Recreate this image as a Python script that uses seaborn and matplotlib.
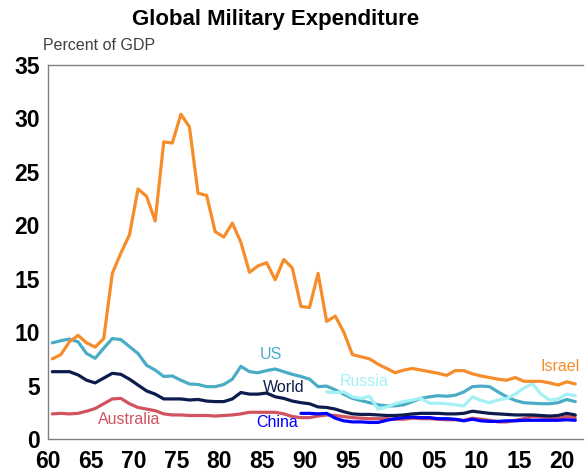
import matplotlib
matplotlib.use("Agg")
import matplotlib.pyplot as plt
import numpy as np
import pandas as pd
import seaborn as sns

# Military spending, percent of GDP, 1960-2021
years = list(range(1960, 2022))

israel = [7.5, 7.9, 9.1, 9.7, 9.0, 8.6, 9.4, 15.5, 17.4, 19.1,
          23.4, 22.7, 20.4, 27.8, 27.7, 30.4, 29.2, 23.0, 22.8, 19.4,
          18.9, 20.2, 18.4, 15.6, 16.2, 16.5, 14.9, 16.8, 16.0, 12.4,
          12.3, 15.5, 11.0, 11.5, 10.0, 7.9, 7.7, 7.5, 7.0, 6.6,
          6.2, 6.45, 6.6, 6.45, 6.3, 6.15, 5.95, 6.4, 6.4, 6.1,
          5.9, 5.75, 5.6, 5.5, 5.75, 5.4, 5.4, 5.4, 5.25, 5.05,
          5.35, 5.15]

us = [9.0, 9.2, 9.35, 9.1, 8.0, 7.55, 8.5, 9.4, 9.3, 8.65,
      8.0, 6.9, 6.45, 5.85, 5.9, 5.5, 5.15, 5.1, 4.9, 4.9,
      5.1, 5.6, 6.8, 6.3, 6.2, 6.4, 6.55, 6.3, 6.05, 5.85,
      5.6, 4.9, 4.95, 4.6, 4.2, 3.8, 3.6, 3.4, 3.2, 3.1,
      3.1, 3.2, 3.5, 3.8, 3.95, 4.05, 4.0, 4.1, 4.4, 4.9,
      4.95, 4.9, 4.4, 3.95, 3.6, 3.4, 3.35, 3.3, 3.3, 3.4,
      3.7, 3.5]

world = [6.3, 6.3, 6.3, 6.0, 5.5, 5.25, 5.7, 6.15, 6.05, 5.6,
         5.05, 4.5, 4.2, 3.75, 3.75, 3.75, 3.65, 3.7, 3.55, 3.5,
         3.5, 3.75, 4.35, 4.2, 4.2, 4.3, 3.95, 3.8, 3.55, 3.4,
         3.3, 3.0, 2.95, 2.8, 2.55, 2.35, 2.3, 2.3, 2.25, 2.2,
         2.2, 2.25, 2.35, 2.4, 2.4, 2.4, 2.35, 2.35, 2.4, 2.6,
         2.5, 2.4, 2.35, 2.3, 2.25, 2.25, 2.25, 2.2, 2.15, 2.2,
         2.4, 2.25]

australia = [2.35, 2.4, 2.35, 2.4, 2.6, 2.85, 3.3, 3.75, 3.8, 3.3,
             2.95, 2.8, 2.65, 2.35, 2.25, 2.25, 2.2, 2.2, 2.2, 2.15,
             2.2, 2.25, 2.35, 2.5, 2.5, 2.5, 2.5, 2.35, 2.1, 2.0,
             2.0, 2.15, 2.25, 2.2, 2.1, 2.0, 1.95, 1.9, 1.9, 1.9,
             1.85, 1.85, 1.95, 1.9, 1.9, 1.85, 1.8, 1.8, 1.75, 1.95,
             1.85, 1.75, 1.6, 1.6, 1.75, 1.9, 2.1, 2.05, 1.95, 1.9,
             2.1, 2.0]

china_years = list(range(1989, 2022))
china = [2.4, 2.4, 2.35, 2.4, 1.95, 1.7, 1.6, 1.6, 1.55, 1.55,
         1.75, 1.9, 2.0, 2.05, 2.0, 2.0, 1.9, 1.9, 1.85, 1.7,
         1.85, 1.7, 1.65, 1.65, 1.7, 1.7, 1.75, 1.75, 1.75, 1.75,
         1.75, 1.8, 1.75]

russia_years = list(range(1992, 2022))
russia = [4.4, 4.35, 4.4, 3.95, 3.8, 4.0, 2.8, 3.0, 3.3, 3.5,
          3.65, 3.8, 3.35, 3.35, 3.3, 3.2, 3.1, 3.95, 3.6, 3.4,
          3.65, 3.8, 4.2, 4.75, 5.2, 4.2, 3.65, 3.75, 4.2, 4.05]

series = [
    ("Australia", years, australia, "#D1535F"),
    ("China", china_years, china, "#0000FF"),
    ("World", years, world, "#0D1C4C"),
    ("US", years, us, "#4BACC6"),
    ("Russia", russia_years, russia, "#A3F0F5"),
    ("Israel", years, israel, "#F78D2A"),
]

frames = []
for name, yrs, vals, _ in series:
    # yearly values sit at mid-year
    frames.append(pd.DataFrame({"year": np.array(yrs) + 0.5, "value": vals, "country": name}))
df = pd.concat(frames, ignore_index=True)
palette = {name: col for name, _, _, col in series}

sns.set_style("white")
plt.rcParams["font.family"] = ["Liberation Sans", "DejaVu Sans"]

fig = plt.figure(figsize=(5.85, 4.73), dpi=100)
ax = fig.add_axes([48 / 585, 34 / 473, 535 / 585, 374 / 473])

sns.lineplot(data=df, x="year", y="value", hue="country", palette=palette,
             hue_order=[s[0] for s in series], linewidth=2.3, legend=False, ax=ax)

ax.set_xlim(1960, 2022.4)
ax.set_ylim(0, 35)
ax.set_xticks(range(1960, 2021, 5))
ax.set_xticklabels(["60", "65", "70", "75", "80", "85", "90", "95",
                    "00", "05", "10", "15", "20"])
ax.set_yticks(range(0, 36, 5))
ax.set_xlabel("")
ax.set_ylabel("")

for side in ["left", "bottom", "top"]:
    ax.spines[side].set_color("#808080")
    ax.spines[side].set_linewidth(1.0)
ax.spines["right"].set_visible(False)

ax.tick_params(axis="y", direction="out", length=4, width=1, color="#808080",
               labelsize=16.5, labelcolor="black", pad=2)
ax.tick_params(axis="x", direction="in", length=4, width=1, color="#808080",
               labelsize=16.5, labelcolor="black", pad=8)
for lab in ax.get_xticklabels() + ax.get_yticklabels():
    lab.set_fontweight("bold")

# series labels
labels = [
    ("US", 1986.0, 7.9, "#4BACC6"),
    ("World", 1987.5, 4.8, "#0D1C4C"),
    ("Australia", 1969.5, 1.85, "#D1535F"),
    ("China", 1986.7, 1.5, "#0000FF"),
    ("Russia", 1996.9, 5.4, "#A3F0F5"),
    ("Israel", 2019.7, 6.8, "#F78D2A"),
]
for txt, x, y, col in labels:
    ax.text(x, y, txt, color=col, fontsize=11.5, ha="center", va="center")

fig.text(276 / 585, 1 - 19 / 473, "Global Military Expenditure", ha="center", va="center",
         fontsize=16, fontweight="bold", color="black")
fig.text(43 / 585, 1 - 46 / 473, "Percent of GDP", ha="left", va="center",
         fontsize=11.5, color="#404040")

fig.savefig("out.png", dpi=100)
